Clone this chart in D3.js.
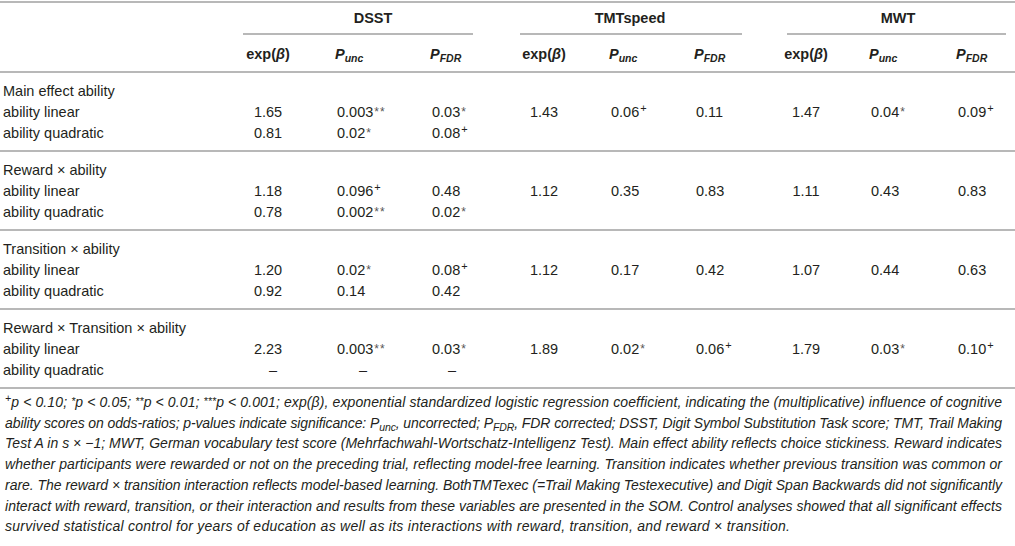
<!DOCTYPE html>
<html>
<head>
<meta charset="utf-8">
<script src="https://cdn.jsdelivr.net/npm/d3@7"></script>
<style>
  body { margin: 0; background: #fff; }
</style>
</head>
<body>
<svg id="tbl"></svg>
<script>
// --- table content ---
const testNames = ["DSST", "TMTspeed", "MWT"];
const sectionLabels = ["Main effect ability", "Reward × ability", "Transition × ability", "Reward × Transition × ability"];
const termLabels = ["ability linear", "ability quadratic"];

// one entry per section: [linear, quadratic]; "" = empty cell
const dsstExp  = [["1.65", "0.81"], ["1.18", "0.78"], ["1.20", "0.92"], ["2.23", "–"]];
const dsstPunc = [["0.003**", "0.02*"], ["0.096+", "0.002**"], ["0.02*", "0.14"], ["0.003**", "–"]];
const dsstFdr  = [["0.03*", "0.08+"], ["0.48", "0.02*"], ["0.08+", "0.42"], ["0.03*", "–"]];
const tmtExp   = [["1.43", ""], ["1.12", ""], ["1.12", ""], ["1.89", ""]];
const tmtPunc  = [["0.06+", ""], ["0.35", ""], ["0.17", ""], ["0.02*", ""]];
const tmtFdr   = [["0.11", ""], ["0.83", ""], ["0.42", ""], ["0.06+", ""]];
const mwtExp   = [["1.47", ""], ["1.11", ""], ["1.07", ""], ["1.79", ""]];
const mwtPunc  = [["0.04*", ""], ["0.43", ""], ["0.44", ""], ["0.03*", ""]];
const mwtFdr   = [["0.09+", ""], ["0.83", ""], ["0.63", ""], ["0.10+", ""]];

const footnoteLines = [
  "^{+}p < 0.10; ^{*}p < 0.05; ^{**}p < 0.01; ^{***}p < 0.001; exp(β), exponential standardized logistic regression coefficient, indicating the (multiplicative) influence of cognitive",
  "ability scores on odds-ratios; p-values indicate significance: P_{unc}, uncorrected; P_{FDR}, FDR corrected; DSST, Digit Symbol Substitution Task score; TMT, Trail Making",
  "Test A in s × −1; MWT, German vocabulary test score (Mehrfachwahl-Wortschatz-Intelligenz Test). Main effect ability reflects choice stickiness. Reward indicates",
  "whether participants were rewarded or not on the preceding trial, reflecting model-free learning. Transition indicates whether previous transition was common or",
  "rare. The reward × transition interaction reflects model-based learning. BothTMTexec (=Trail Making Testexecutive) and Digit Span Backwards did not significantly",
  "interact with reward, transition, or their interaction and results from these variables are presented in the SOM. Control analyses showed that all significant effects",
  "survived statistical control for years of education as well as its interactions with reward, transition, and reward × transition."
];

// --- layout ---
const W = 1015, H = 546;
const ink = "#231f20", rule = "#b8b8b8";
const bodySize = 14.5;

const groups = [
  { name: testNames[0], cols: [dsstExp, dsstPunc, dsstFdr], title: 373, line: [243, 473], exp: 268, punc: 337, fdr: 432 },
  { name: testNames[1], cols: [tmtExp, tmtPunc, tmtFdr],    title: 630, line: [520, 742], exp: 544, punc: 611, fdr: 696 },
  { name: testNames[2], cols: [mwtExp, mwtPunc, mwtFdr],    title: 898, line: [787, 1006], exp: 806, punc: 871, fdr: 958 }
];

const svg = d3.select("#tbl")
  .attr("width", W)
  .attr("height", H)
  .style("font-family", "'Liberation Sans', Arial, Helvetica, sans-serif")
  .attr("fill", ink);

// section rule positions; rows sit below each rule
const sectionY = d3.scaleLinear().domain([0, sectionLabels.length]).range([72, 388]);
const rowY = (s, k) => sectionY(s) + 19 + 21 * k + 5; // baseline, k: 0 header, 1 linear, 2 quadratic

function hline(x1, x2, y) {
  svg.append("line")
    .attr("x1", x1).attr("x2", x2).attr("y1", y).attr("y2", y)
    .attr("stroke", rule).attr("stroke-width", 2);
}

// rules
hline(0, W, 2);
d3.range(sectionLabels.length + 1).forEach(i => hline(0, W, sectionY(i)));
groups.forEach(g => hline(g.line[0], g.line[1], 34));

// group titles
groups.forEach(g => {
  svg.append("text")
    .attr("x", g.title).attr("y", 23)
    .attr("text-anchor", "middle")
    .attr("font-weight", "bold")
    .attr("font-size", bodySize)
    .text(g.name);
});

// sub headers
groups.forEach(g => {
  const e = svg.append("text")
    .attr("x", g.exp).attr("y", 59)
    .attr("text-anchor", "middle")
    .attr("font-weight", "bold")
    .attr("font-size", bodySize);
  e.append("tspan").text("exp(");
  e.append("tspan").attr("font-style", "italic").text("β");
  e.append("tspan").text(")");

  [[g.punc - 2, "unc"], [g.fdr - 2, "FDR"]].forEach(([x, sub]) => {
    const p = svg.append("text")
      .attr("x", x).attr("y", 59)
      .attr("font-weight", "bold")
      .attr("font-style", "italic")
      .attr("font-size", bodySize);
    p.append("tspan").text("P");
    p.append("tspan").attr("dy", 3).attr("font-size", 10.5).text(sub);
  });
});

// row labels
sectionLabels.forEach((lab, s) => {
  svg.append("text").attr("x", 3).attr("y", rowY(s, 0)).attr("font-size", bodySize).text(lab);
  termLabels.forEach((t, k) => {
    svg.append("text").attr("x", 3).attr("y", rowY(s, k + 1)).attr("font-size", bodySize).text(t);
  });
});

// cell values, significance marks drawn small and raised
function addValue(str, x, y, anchor) {
  if (!str) return;
  const m = str.match(/^([^*+]*)([*+]*)$/);
  const t = svg.append("text")
    .attr("x", x).attr("y", y)
    .attr("text-anchor", anchor)
    .attr("font-size", bodySize);
  t.append("tspan").text(m[1]);
  if (m[2]) {
    const plus = m[2].indexOf("+") >= 0;
    t.append("tspan")
      .attr("dx", 1)
      .attr("dy", plus ? -5 : -1)
      .attr("font-size", plus ? 11 : 12)
      .attr("letter-spacing", plus ? 0 : 1)
      .attr("fill", plus ? ink : "#555")
      .text(m[2]);
  }
}

groups.forEach(g => {
  const [ex, pu, fd] = g.cols;
  sectionLabels.forEach((_, s) => {
    [0, 1].forEach(k => {
      const y = rowY(s, k + 1);
      const dash = v => v === "–";
      addValue(ex[s][k], g.exp + (dash(ex[s][k]) ? 5 : 0), y, "middle");
      if (dash(pu[s][k])) addValue(pu[s][k], g.punc + 26, y, "middle");
      else addValue(pu[s][k], g.punc, y, "start");
      if (dash(fd[s][k])) addValue(fd[s][k], g.fdr + 20, y, "middle");
      else addValue(fd[s][k], g.fdr, y, "start");
    });
  });
});

// footnote (justified lines, last line ragged)
const noteSize = 14;
const noteY = d3.scaleLinear().domain([0, 1]).range([407, 427.7]);
const noteWidths = [997, 997, 997, 997, 997, 997, 785];

footnoteLines.forEach((line, i) => {
  const t = svg.append("text")
    .attr("x", 5).attr("y", noteY(i))
    .attr("font-style", "italic")
    .attr("font-size", noteSize)
    .attr("textLength", noteWidths[i])
    .attr("lengthAdjust", "spacing");
  let shift = 0;
  const re = /\^\{([^}]*)\}|_\{([^}]*)\}|([^^_]+)/g;
  let m;
  while ((m = re.exec(line)) !== null) {
    let target = 0, txt = m[3], size = noteSize;
    if (m[1] !== undefined) { target = m[1].indexOf("+") >= 0 ? -5 : -2; txt = m[1]; size = 10.5; }
    if (m[2] !== undefined) { target = 3; txt = m[2]; size = 10.5; }
    t.append("tspan")
      .attr("dy", target - shift)
      .attr("font-size", size)
      .text(txt);
    shift = target;
  }
});
</script>
</body>
</html>
